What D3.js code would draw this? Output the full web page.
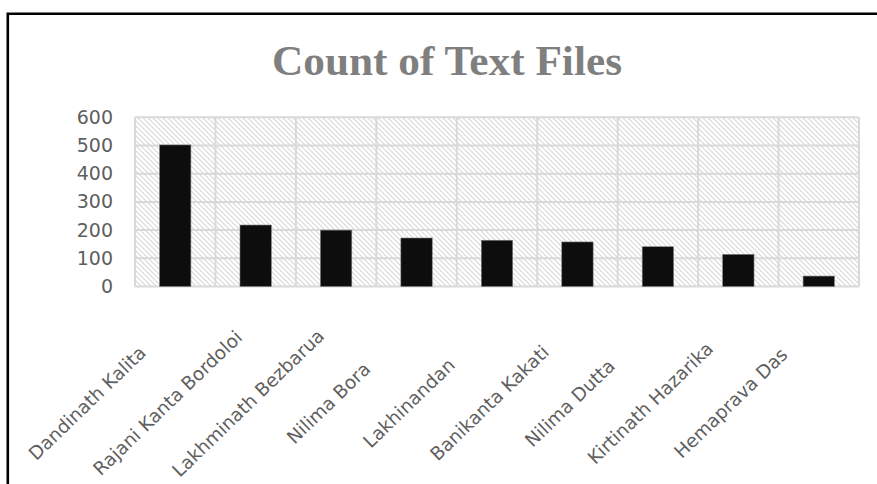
<!DOCTYPE html>
<html>
<head>
<meta charset="utf-8">
<script src="https://cdn.jsdelivr.net/npm/d3@7"></script>
<style>
  html, body { margin: 0; padding: 0; background: #fff; }
  svg { display: block; }
</style>
</head>
<body>
<svg id="chart" width="877" height="484"></svg>
<script>
// Number of text files per author
const authors = [
  "Dandinath Kalita", "Rajani Kanta Bordoloi", "Lakhminath Bezbarua",
  "Nilima Bora", "Lakhinandan", "Banikanta Kakati",
  "Nilima Dutta", "Kirtinath Hazarika", "Hemaprava Das"
];
const fileCounts = [502, 218, 200, 172, 164, 158, 141, 114, 37];
const yTicks = [0, 100, 200, 300, 400, 500, 600];
const chartTitle = "Count of Text Files";

const svg = d3.select("#chart");
const W = 877, H = 484;
const plot = { left: 135, right: 859, top: 117.3, bottom: 286.5 };

const x = d3.scaleBand().domain(authors).range([plot.left, plot.right]).padding(0);
const y = d3.scaleLinear().domain([0, 600]).range([plot.bottom, plot.top]);

// Diagonal hatch fill for the plot area
const defs = svg.append("defs");
const pat = defs.append("pattern")
  .attr("id", "hatch")
  .attr("patternUnits", "userSpaceOnUse")
  .attr("width", 5).attr("height", 5);
pat.append("rect").attr("width", 5).attr("height", 5).attr("fill", "#fff");
pat.append("path")
  .attr("d", "M-1,-1 L6,6 M-1,4 L1,6 M4,-1 L6,1")
  .attr("stroke", "#d8d8d8")
  .attr("stroke-width", 1.1);

svg.append("rect")
  .attr("x", plot.left).attr("y", plot.top)
  .attr("width", plot.right - plot.left)
  .attr("height", plot.bottom - plot.top)
  .attr("fill", "url(#hatch)");

// Gridlines: horizontal at each tick, vertical between categories
const grid = svg.append("g").attr("stroke", "#d9d9d9").attr("stroke-width", 2);
grid.selectAll("line.h").data(yTicks).join("line")
  .attr("class", "h")
  .attr("x1", plot.left).attr("x2", plot.right)
  .attr("y1", d => y(d)).attr("y2", d => y(d));
const bounds = authors.map(a => x(a)).concat([plot.right]);
grid.selectAll("line.v").data(bounds).join("line")
  .attr("class", "v")
  .attr("x1", d => d).attr("x2", d => d)
  .attr("y1", plot.top).attr("y2", plot.bottom);

// Bars
const barW = x.bandwidth() * 0.39;
svg.append("g").selectAll("rect").data(fileCounts).join("rect")
  .attr("x", (d, i) => x(authors[i]) + x.bandwidth() / 2 - barW / 2)
  .attr("y", d => y(d))
  .attr("width", barW)
  .attr("height", d => y(0) - y(d))
  .attr("fill", "#0d0d0d")
  .attr("stroke", "#7f7f7f")
  .attr("stroke-width", 0.6);

// Y axis labels
const yAxis = d3.axisLeft(y).tickValues(yTicks).tickSize(0).tickPadding(0);
const gy = svg.append("g").attr("transform", `translate(${plot.left - 22},0)`).call(yAxis);
gy.select(".domain").remove();
gy.selectAll("text")
  .attr("fill", "#5f5f5f")
  .style("font-family", "'DejaVu Sans', sans-serif")
  .style("font-size", "19px");

// Category labels, rotated
const catFont = "'DejaVu Sans', sans-serif";
svg.append("g").selectAll("text").data(authors).join("text")
  .attr("transform", d => `translate(${x(d) + x.bandwidth() / 2 - 88},403) rotate(-44)`)
  .attr("text-anchor", "middle")
  .attr("dy", "0.35em")
  .attr("fill", "#5f5f5f")
  .style("font-family", catFont)
  .style("font-size", "18.5px")
  .text(d => d);

// Title
svg.append("text")
  .attr("x", 447).attr("y", 75)
  .attr("text-anchor", "middle")
  .attr("fill", "#7f7f7f")
  .style("font-family", "'Liberation Serif', 'DejaVu Serif', serif")
  .style("font-weight", "bold")
  .style("font-size", "43px")
  .attr("textLength", 350)
  .attr("lengthAdjust", "spacingAndGlyphs")
  .text(chartTitle);

// Chart frame (left and top edges visible)
svg.append("path")
  .attr("d", `M7.8,${H + 5} L7.8,13.8 L${W + 5},13.8`)
  .attr("fill", "none")
  .attr("stroke", "#000")
  .attr("stroke-width", 2.6);
</script>
</body>
</html>
